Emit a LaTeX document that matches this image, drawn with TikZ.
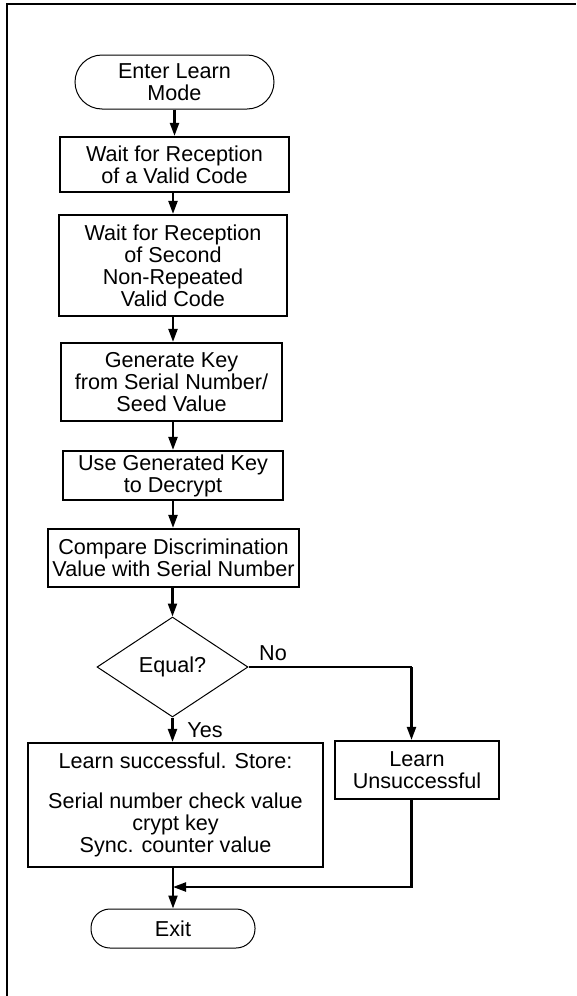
\documentclass[tikz,border=0pt]{standalone}
\usepackage{fontspec}
\setmainfont{Liberation Sans}
\usetikzlibrary{arrows.meta,shapes.geometric}
\begin{document}
\begin{tikzpicture}[x=1pt,y=-1pt,
  every node/.style={font=\fontsize{21.6}{22}\selectfont, align=center, inner sep=0pt},
  procbox/.style={draw, line width=2.2pt, rectangle},
  termbox/.style={draw, line width=1pt, rectangle},
  decbox/.style={draw, line width=1pt, diamond},
  arr/.style={line width=2.2pt, -{Triangle[length=13pt,width=9pt]}},
  conn/.style={line width=2.2pt}
]
\useasboundingbox (0,0) rectangle (576,996);
\draw[line width=2pt] (6.8,996) -- (6.8,4.2) -- (576,4.2);

\node[termbox, rounded corners=27pt, minimum width=199pt, minimum height=54pt] (start) at (174.5,82) {Enter Learn\\Mode};
\node[procbox, minimum width=229pt, minimum height=55pt] (b1) at (174.5,164.5) {Wait for Reception\\of a Valid Code};
\node[procbox, minimum width=228pt, minimum height=101pt] (b2) at (173,265.5) {Wait for Reception\\of Second\\Non-Repeated\\Valid Code};
\node[procbox, minimum width=221pt, minimum height=78pt] (b3) at (171.5,382) {Generate Key\\from Serial Number/\\Seed Value};
\node[procbox, minimum width=220pt, minimum height=49pt] (b4) at (173,475.5) {Use Generated Key\\to Decrypt};
\node[procbox, minimum width=251pt, minimum height=58pt] (b5) at (173.5,558) {Compare Discrimination\\Value with Serial Number};
\node[decbox, minimum width=151pt, minimum height=100pt] (dec) at (172.5,667) {Equal?};
\node[procbox, minimum width=295pt, minimum height=124pt] (ok) at (175.5,805) {Learn successful. Store:\\[18pt]Serial number check value\\crypt key\\Sync. counter value};
\node[procbox, minimum width=164pt, minimum height=58pt] (fail) at (417,770) {Learn\\Unsuccessful};
\node[termbox, rounded corners=19pt, minimum width=164pt, minimum height=39pt] (exit) at (173,928.5) {Exit};

\node (no) at (273,653) {No};
\node (yes) at (205,730) {Yes};

\coordinate (nx) at (411.5,667);
\coordinate (m) at (173,887);

\draw[arr] (start.south) -- (start.south |- b1.north);
\draw[arr] (b1.south -| b2) -- (b2.north);
\draw[arr] (b2.south) -- (b2.south |- b3.north);
\draw[arr] (b3.south -| b4) -- (b4.north);
\draw[arr] (b4.south) -- (b4.south |- b5.north);
\draw[arr] (b5.south -| dec) -- (dec.north);
\draw[arr] (dec.south) -- (dec.south |- ok.north);
\draw[conn] (dec.east) -- (nx);
\draw[arr] (nx) -- (nx |- fail.north);
\draw[arr] (fail.south -| nx) |- (m);
\draw[arr] (ok.south -| m) -- (exit.north -| m);
\end{tikzpicture}
\end{document}
